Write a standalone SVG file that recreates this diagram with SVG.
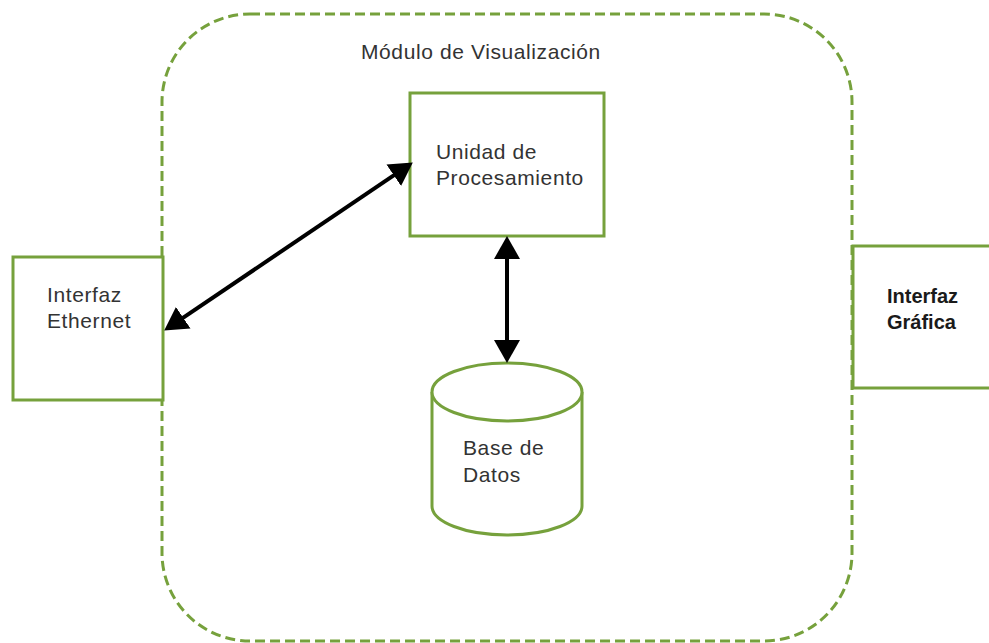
<svg xmlns="http://www.w3.org/2000/svg" width="989" height="643" viewBox="0 0 989 643">
  <style>
    .box { fill: #ffffff; stroke: #76a13c; stroke-width: 3; }
    .frame { fill: none; stroke: #76a13c; stroke-width: 3; stroke-dasharray: 10 5; }
    .lbl { font-family: "Liberation Sans", Arial, sans-serif; font-size: 21px; letter-spacing: 0.6px; fill: #333333; }
    .lbl-b { font-family: "Liberation Sans", Arial, sans-serif; font-size: 20px; font-weight: bold; fill: #1a1a1a; }
    .conn { fill: none; stroke: #000000; stroke-width: 4; }
  </style>
  <defs>
    <marker id="arrow" markerUnits="userSpaceOnUse" markerWidth="24" markerHeight="28" viewBox="0 0 24 28" refX="12" refY="14" orient="auto-start-reverse">
      <path d="M0,1 L23,14 L0,27 Z" fill="#000000"/>
    </marker>
  </defs>
  <rect width="989" height="643" fill="#ffffff"/>

  <!-- module boundary -->
  <g id="modulo">
    <rect class="frame" x="162" y="14" width="690" height="627" rx="88" ry="88"/>
    <text class="lbl" x="361" y="59">Módulo de Visualización</text>
  </g>

  <g id="interfaz-ethernet">
    <rect class="box" x="13" y="257" width="150" height="143"/>
    <text class="lbl" x="47" y="302">Interfaz</text>
    <text class="lbl" x="47" y="328">Ethernet</text>
  </g>

  <g id="unidad-procesamiento">
    <rect class="box" x="410" y="93" width="194" height="143"/>
    <text class="lbl" x="436" y="159">Unidad de</text>
    <text class="lbl" x="436" y="185">Procesamiento</text>
  </g>

  <g id="base-datos">
    <path class="box" d="M432,392 L432,506 A75,29 0 0 0 582,506 L582,392"/>
    <ellipse class="box" cx="507" cy="392" rx="75" ry="29"/>
    <text class="lbl" x="463" y="455">Base de</text>
    <text class="lbl" x="463" y="482">Datos</text>
  </g>

  <g id="interfaz-grafica">
    <rect class="box" x="853" y="246" width="160" height="142"/>
    <text class="lbl-b" x="887" y="303">Interfaz</text>
    <text class="lbl-b" x="887" y="329">Gráfica</text>
  </g>

  <g id="connectors">
    <line class="conn" x1="173.3" y1="324.4" x2="403.7" y2="168.6" marker-start="url(#arrow)" marker-end="url(#arrow)"/>
    <line class="conn" x1="507" y1="247" x2="507" y2="352" marker-start="url(#arrow)" marker-end="url(#arrow)"/>
  </g>
</svg>
